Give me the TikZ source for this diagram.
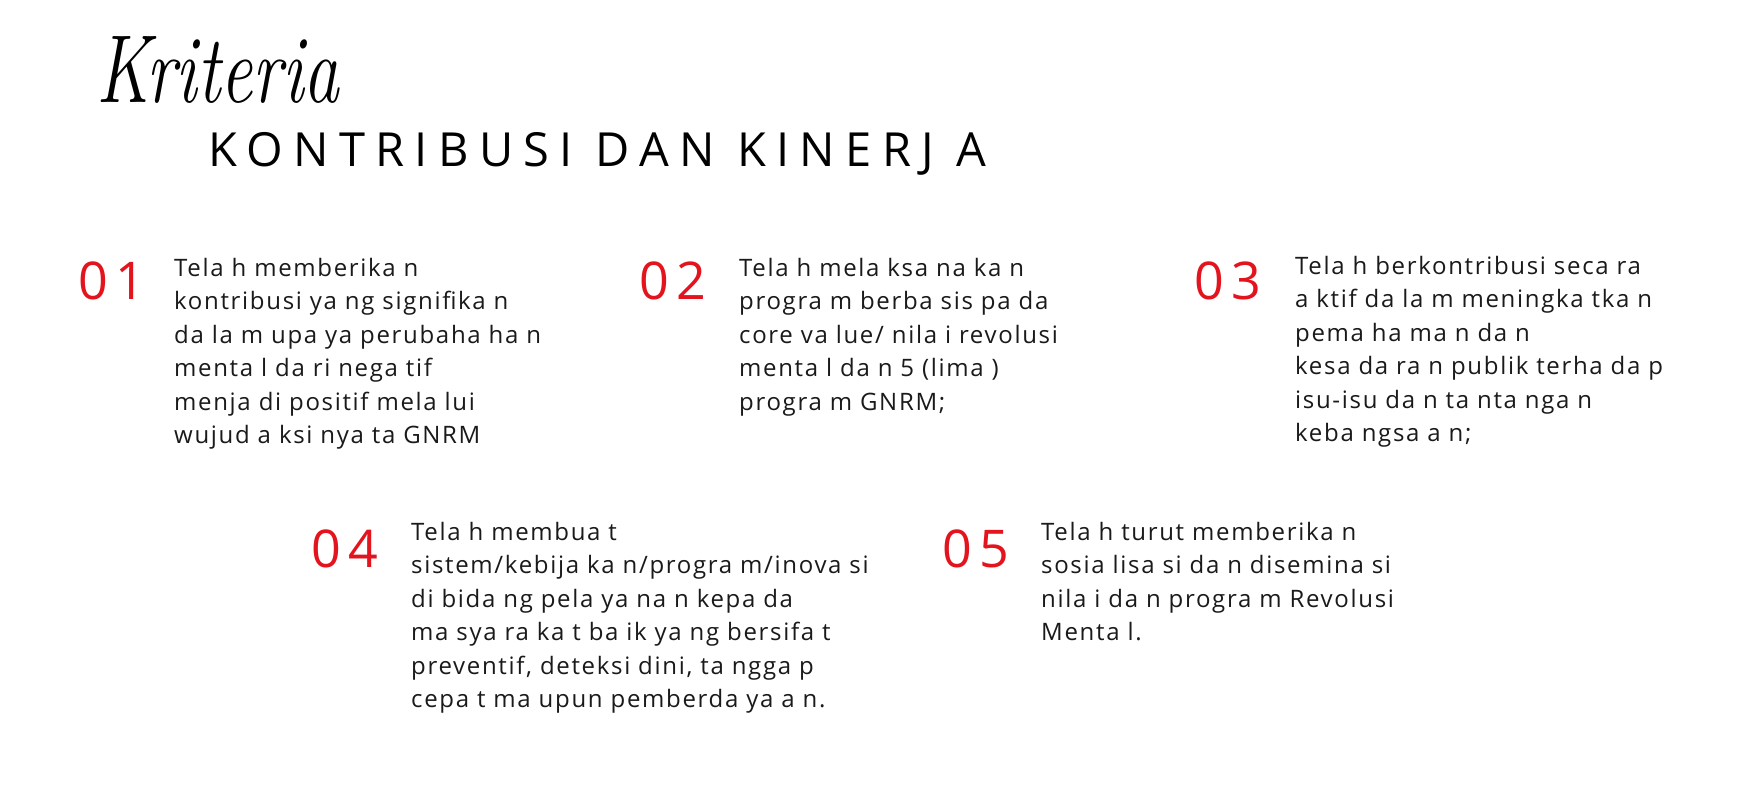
\documentclass[tikz,border=0pt]{standalone}
\usepackage{fontspec}
\newfontfamily\bodyf[LetterSpace=7]{Open Sans}
\newfontfamily\numf[LetterSpace=14]{Open Sans}
\newfontfamily\titlef[LetterSpace=22]{Open Sans}
\newfontfamily\scriptf{Latin Modern Roman}
\definecolor{numred}{HTML}{E3141E}
\definecolor{ink}{HTML}{1A1A1A}
\tikzset{
  num/.style={anchor=north west, inner sep=0pt, text=numred, font=\numf\fontsize{52}{52}\selectfont},
  body/.style={anchor=north west, inner sep=0pt, align=left, text=ink, font=\bodyf\fontsize{24}{33.5}\selectfont},
}
\begin{document}
\begin{tikzpicture}[x=1pt,y=-1pt]
\useasboundingbox[fill=white] (0,0) rectangle (1742,788);
\node[anchor=north west, inner sep=0pt, text=black, font=\scriptf\itshape\fontsize{84}{84}\selectfont, xscale=0.85, yscale=1.15] (script) at (96,36) {Kriteria};
\node[anchor=north west, inner sep=0pt, text=black, font=\titlef\fontsize{47}{47}\selectfont] (title) at (208,132) {KONTRIBUSI DAN KINERJ A};

\node[num] (n1) at (78,262) {01};
\node[body] (t1) at (174,258) {Tela h memberika n\\kontribusi ya ng signifika n\\da la m upa ya perubaha ha n\\menta l da ri nega tif\\menja di positif mela lui\\wujud a ksi nya ta GNRM};

\node[num] (n2) at (639,262) {02};
\node[body] (t2) at (739,258) {Tela h mela ksa na ka n\\progra m berba sis pa da\\core va lue/ nila i revolusi\\menta l da n 5 (lima )\\progra m GNRM;};

\node[num] (n3) at (1194,262) {03};
\node[body] (t3) at (1295,256) {Tela h berkontribusi seca ra\\a ktif da la m meningka tka n\\pema ha ma n da n\\kesa da ra n publik terha da p\\isu-isu da n ta nta nga n\\keba ngsa a n;};

\node[num] (n4) at (311,530) {04};
\node[body] (t4) at (411,522) {Tela h membua t\\sistem/kebija ka n/progra m/inova si\\di bida ng pela ya na n kepa da\\ma sya ra ka t ba ik ya ng bersifa t\\preventif, deteksi dini, ta ngga p\\cepa t ma upun pemberda ya a n.};

\node[num] (n5) at (942,530) {05};
\node[body] (t5) at (1041,522) {Tela h turut memberika n\\sosia lisa si da n disemina si\\nila i da n progra m Revolusi\\Menta l.};
\end{tikzpicture}
\end{document}
